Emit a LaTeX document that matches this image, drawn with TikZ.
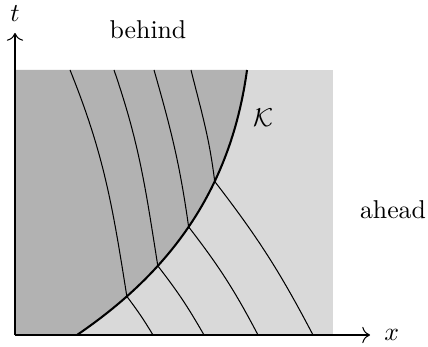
\documentclass[tikz,border=0pt]{standalone}
\usepackage{amsmath,amssymb}
\usepackage{tikz}
\usetikzlibrary{arrows.meta, calc}

\begin{document}
\begin{tikzpicture}[
        x=0.388pt, y=0.388pt,
        axis/.style={->, >={To[length=3pt]}},
        front/.style={thick, black},
        charline/.style={thin, black}
    ]
        \useasboundingbox (-15,-12) rectangle (413,335);
        % regions
        \fill[black!15] (0,0) rectangle (318,265);
        \fill[black!30] (0,0) -- (62,0) .. controls (150,60) and (215,140) .. (232,265) -- (0,265) -- cycle;
        % front, with the crossing points
        \draw[front] (62,0) .. controls (150,60) and (215,140) .. (232,265)
            coordinate[pos=0.2] (k1) coordinate[pos=0.34] (k2)
            coordinate[pos=0.5] (k3) coordinate[pos=0.665] (k4);
        % characteristics behind the front
        \draw[charline] (55,265) to[out=-68, in=99] (k1);
        \draw[charline] (99,265) to[out=-71, in=99] (k2);
        \draw[charline] (139,265) to[out=-74, in=98] (k3);
        \draw[charline] (176,265) to[out=-76, in=97] (k4);
        % characteristics ahead of the front
        \draw[charline] (k1) to[bend left=3] (138,0);
        \draw[charline] (k2) to[bend left=4] (189,0);
        \draw[charline] (k3) to[bend left=5] (243,0);
        \draw[charline] (k4) to[bend left=5] (298,0);
        % axes
        \draw[axis] (0,0) -- (355,0) node[right=2pt] (xl) {$x$};
        \draw[axis] (0,0) -- (0,302) node[above=1pt] (tl) {$t$};
        % labels
        \node (behind) at (133,305) {behind};
        \node (ahead) at (378,125) {ahead};
        \node (K) at (248,217) {$\mathcal{K}$};
    \end{tikzpicture}
\end{document}
